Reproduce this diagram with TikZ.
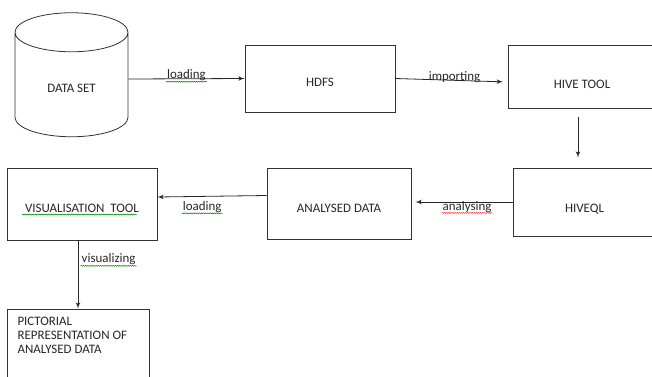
\documentclass[tikz,border=0pt]{standalone}
\usepackage{fontspec}
\setmainfont{Carlito}
\usetikzlibrary{shapes.geometric, arrows, decorations.pathmorphing}
\tikzstyle{block} = [rectangle, draw=black!80, line width=0.6pt, inner sep=0pt, text depth=0pt]
\tikzstyle{db} = [cylinder, shape border rotate=90, draw=black!80, line width=0.6pt, aspect=0.68, minimum width=84.75pt, minimum height=93pt, text depth=0pt]
\tikzstyle{line} = [draw=black!85, line width=0.6pt, -latex']
\tikzstyle{lbl} = [inner sep=0.5pt]
\tikzstyle{okmark} = [draw=green!55!black, line width=0.4pt, decorate, decoration={snake, amplitude=0.35pt, segment length=1.6pt}]
\tikzstyle{badmark} = [okmark, draw=red!80]

\begin{document}
\begin{tikzpicture}[x=0.75pt, y=-0.75pt, font=\fontsize{9.7}{10.5}\selectfont, text=black!85]
  \useasboundingbox (0,0) rectangle (652,376);
  \node [db, text height=5.5pt] (dset) at (71.5,88.5) {DATA SET};
  \node [block, minimum width=112.5pt, minimum height=50.25pt, text height=11.4pt] (hdfs) at (320,78.5) {HDFS};
  \node [block, minimum width=111pt, minimum height=47.25pt, text height=17.4pt] (hive) at (582,76.5) {HIVE TOOL};
  \node [block, minimum width=107.25pt, minimum height=51pt, text height=15.2pt] (hql) at (584.5,202) {HIVEQL};
  \node [block, minimum width=108pt, minimum height=53.25pt, text height=13pt] (adata) at (339,203.5) {ANALYSED DATA};
  \node [block, minimum width=112.5pt, minimum height=54pt, text height=12.2pt] (vtool) at (82,204) {VISUALISATION\ \ TOOL};
  \node [block, minimum width=106.5pt, minimum height=69pt] (pict) at (78,355) {};
  \node [lbl, anchor=north west, align=left] (picttxt) at ([xshift=7.5pt, yshift=-6pt]pict.north west)
    {PICTORIAL\\REPRESENTATION OF\\ANALYSED DATA};
  \path [line] (dset.east |- 0,79) -- node [lbl, pos=0.5, anchor=base] (ld1) {loading} (hdfs.west);
  \path [line] (hdfs.east) -- node [lbl, pos=0.55, anchor=base] (imp) {importing} ([xshift=-3.5pt, yshift=-4pt]hive.west);
  \path [line, shorten <=6.75pt, shorten >=7.5pt] (hive.south -| 578,0) -- (hql.north -| 578,0);
  \path [line, shorten >=3pt] (hql.west) -- node [lbl, pos=0.45, anchor=base, yshift=-6pt] (ana) {analysing} (hql.west -| adata.east);
  \path [line] ([yshift=6pt]adata.west) -- node [lbl, pos=0.59, anchor=base, yshift=-10.5pt] (ld2) {loading} ([yshift=5.25pt]vtool.east);
  \path [line] (vtool.south -| pict.north) -- node [lbl, pos=0.33, anchor=base west, xshift=2pt] (vis) {visualizing} (pict.north);
  % spelling marks under the words
  \path [okmark] ([yshift=-2.2pt]ld1.base west) -- ([yshift=-2.2pt]ld1.base east);
  \path [okmark] ([yshift=-2.2pt]ld2.base west) -- ([yshift=-2.2pt]ld2.base east);
  \path [okmark] ([yshift=-2.2pt]vis.base west) -- ([yshift=-2.2pt]vis.base east);
  \path [badmark] ([yshift=-2.2pt]ana.base west) -- ([yshift=-2.2pt]ana.base east);
  \path [okmark] ([xshift=-45pt, yshift=-1.8pt]vtool.base) -- ([xshift=41pt, yshift=-1.8pt]vtool.base);
\end{tikzpicture}
\end{document}
